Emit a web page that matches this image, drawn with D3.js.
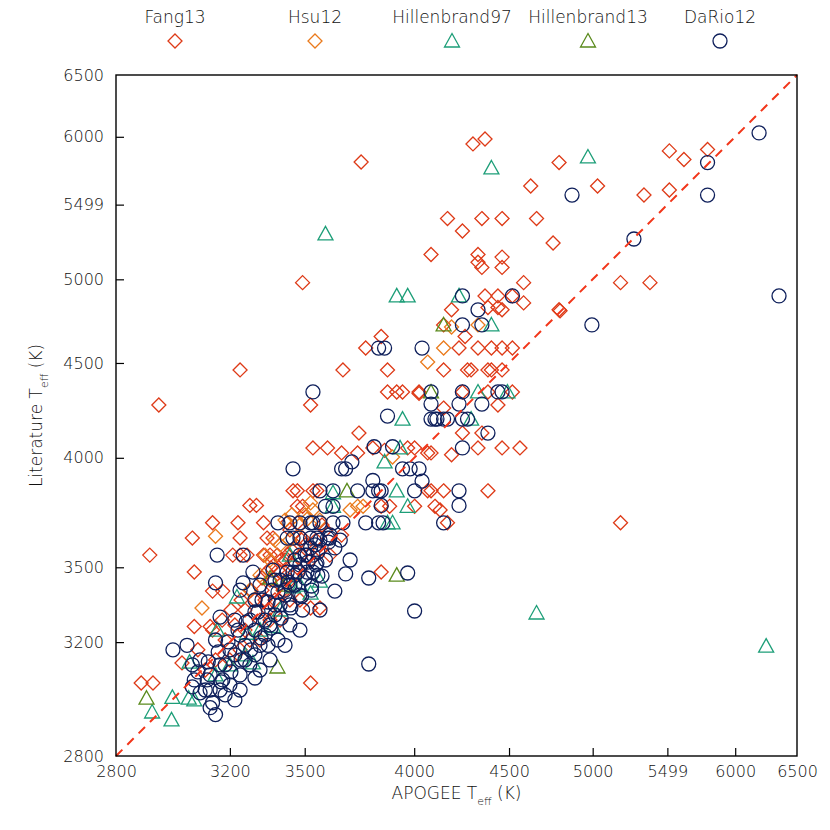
<!DOCTYPE html>
<html lang="en">
<head>
    <meta charset="utf-8">
    <title>APOGEE vs literature Teff</title>
    <script src="https://d3js.org/d3.v7.min.js"></script>
    <style type="text/css">
        body { margin: 0; background: white; }
        text { font-family: "DejaVu Sans", sans-serif; font-weight: 200; fill: #111; }
        .tick line { stroke: #000; stroke-width: 1.2; }
    </style>
</head>
<body>
<div id="main"></div>
<script type="text/javascript">
var width = 830, height = 830;

// tick values (the 5499 label is what the original plot printed)
var tickVals = [2800, 3200, 3500, 4000, 4500, 5000, 5499, 6000, 6500];

// [APOGEE Teff, literature Teff]
var fang13 = [
  [3748,5808],[3491,4979],[4168,5402],[4084,5160],[4189,4811],[4148,4720],[3841,4652],[3769,4585],
  [3871,4461],[3239,4461],[3666,4461],[3871,4340],[3915,4340],[3943,4340],[4024,4340],[4024,4332],
  [2943,4270],[3525,4270],[4148,4254],[4302,5945],[4367,5983],[4792,5804],[5513,5892],[5617,5827],
  [5790,5903],[4624,5632],[5031,5632],[5337,5567],[5513,5603],[4246,5317],[4350,5402],[4461,5402],
  [4658,5402],[4756,5236],[4329,5160],[4329,5110],[4350,5076],[4461,5143],[4461,5076],[4583,4979],
  [5180,4979],[5378,4979],[4367,4896],[4438,4896],[4519,4896],[4583,4853],[4383,4825],[4438,4825],
  [4461,4811],[4792,4811],[4798,4805],[4260,4652],[4228,4585],[4329,4585],[4402,4585],[4461,4585],
  [4519,4585],[4148,4461],[4273,4461],[4292,4461],[4383,4461],[4402,4461],[4461,4461],[4246,4340],
  [4383,4340],[4519,4340],[4438,4270],
  [3738,4124],[3535,4049],[3598,4049],[3660,4024],[3732,4024],[3802,4049],[3857,4037],[3968,4049],
  [4002,4049],[4067,4024],[4084,4024],[4189,4015],[4246,4124],[4350,4124],[4329,4049],[4461,4049],
  [4562,4049],[3451,3841],[3469,3841],[3535,3841],[3552,3841],[4067,3841],[4084,3841],[4148,3841],
  [4383,3841],[3469,3769],[3491,3769],[3841,3769],[3881,3769],[4002,3769],[4104,3769],[4130,3752],
  [3427,3694],[3469,3694],[4168,3694],[3135,3694],[3231,3694],[3331,3694],[3277,3773],[3303,3773],
  [5180,3694],[3061,3626],[3239,3626],[3345,3626],[3369,3626],[3491,3626],[3660,3639],[2912,3552],
  [3211,3552],[3239,3552],[3266,3552],[3331,3552],[3357,3552],[3387,3552],[3427,3552],[3608,3552],
  [3068,3480],[3345,3480],[3398,3480],[3841,3480],[3135,3401],[3173,3401],[3525,3333],[3565,3333],
  [3068,3260],[3126,3260],[3024,3122],[2883,3049],[2923,3049],[3525,3049],
  [3182,3208],[3219,3266],[3258,3325],[3297,3365],[3325,3405],[3357,3446],[3389,3488],[3418,3531],
  [3459,3583],[3502,3596],[3548,3617],[3589,3662],[3200,3133],[3239,3171],[3277,3208],[3317,3285],
  [3349,3325],[3377,3365],[3410,3405],[3438,3446],[3480,3488],[3525,3531],[3565,3574],[3108,3096],
  [3146,3133],[3258,3246],[3337,3365],[3398,3426],[3446,3510],[3480,3544],[3357,3285],[3438,3365],
  [3204,3325],[3243,3365],[3281,3405],[3325,3455],[3361,3497],[3402,3531],[3446,3574],[3487,3617],
  [3574,3684],[3135,3246],[3171,3285],[3081,3171],[3438,3662],[3398,3285],[3480,3365],[3317,3208]
];

var hsu12 = [
  [3895,4004],[4067,4505],[4148,4585],[4189,4708],[4329,4720],[3525,3785],[3535,3752],[3698,3752],
  [3732,3769],[3757,3769],[3510,3710],[3146,3634],[3096,3333],[3446,3730],[3480,3684],[3398,3596],
  [3357,3531],[3317,3467],[3438,3617],[3277,3405],[3418,3706],[3502,3730],[3377,3617],[3337,3552],
  [3565,3706]
];

var hill97 = [
  [3589,5297],[3915,4896],[3968,4896],[4228,4896],[4970,5846],[4402,5764],[4402,4720],[4329,4340],
  [4491,4340],[3943,4196],[4292,4196],[3931,4049],[3857,3980],[3915,3841],[3968,3769],[3871,3694],
  [3895,3694],[3622,3769],[3622,3832],[3438,3552],[3565,3442],[4658,3313],[6245,3185],
  [2920,2947],[2987,2920],[2990,2998],[3051,3125],[3048,2995],[3068,2989],
  [3227,3377],[3266,3234],[3289,3122],[3369,3260],[3451,3418],[3525,3393],[3152,3246],
  [3200,3115],[3317,3246],[3398,3325],[3480,3426],[3258,3152],[3146,3078]
];

var hill13 = [
  [4148,4720],[4084,4340],[3684,3841],[3915,3467],[3387,3107],[2901,2995],[3418,3426],[3357,3455]
];

var dario12 = [
  [3829,4585],[3857,4585],[4039,4585],[3535,4340],[4084,4340],[4084,4275],[6188,6030],[5790,5804],
  [4871,5567],[5790,5567],[5269,5263],[6350,4896],[4246,4896],[4519,4896],[4329,4811],[4995,4720],
  [4246,4720],[4350,4720],[4246,4340],[4438,4340],[4461,4340],[4228,4275],[4350,4275],[3871,4212],
  [4084,4196],[4104,4196],[4114,4196],[4148,4196],[4168,4196],[4246,4196],[4273,4196],[4383,4124],
  [3808,4055],[3895,4055],[4246,4049],[3451,3946],[3660,3946],[3678,3946],[3706,3980],[3943,3946],
  [3980,3946],[4024,3946],[4039,3887],[3802,3890],[3565,3841],[3622,3841],[3732,3841],[3802,3841],
  [3829,3841],[3841,3841],[4002,3841],[4228,3841],[3589,3769],[3622,3769],[3841,3773],[4228,3773],
  [3389,3694],[3438,3694],[3480,3694],[3525,3694],[3535,3694],[3565,3694],[3622,3694],[3666,3694],
  [3769,3694],[3829,3694],[3850,3694],[4148,3694],[3427,3626],[3451,3626],[3480,3626],[3525,3626],
  [3552,3626],[3598,3626],[3608,3626],[3152,3552],[3251,3552],[3480,3552],[3510,3552],[3535,3552],
  [3552,3518],[3289,3480],[3369,3488],[3427,3480],[3451,3480],[3510,3480],[3535,3480],[3783,3455],
  [3968,3476],[3146,3435],[3251,3435],[3239,3405],[4002,3321],[3163,3297],[2992,3171],[3042,3188],
  [3061,3115],[3783,3118],[3146,2938],[3126,2962],[3089,3014],[3061,3035],[3068,3060],[3115,3060],
  [3173,3060],[3135,2979],[3163,3024],
  [3108,3024],[3200,3042],[3239,3078],[3277,3115],[3297,3152],[3317,3188],[3337,3227],[3357,3266],
  [3377,3305],[3398,3345],[3418,3385],[3438,3426],[3459,3467],[3480,3510],[3502,3552],[3525,3583],
  [3565,3617],[3608,3640],[3182,3115],[3219,3152],[3258,3188],[3297,3246],[3337,3285],[3377,3345],
  [3418,3405],[3459,3426],[3502,3455],[3548,3510],[3277,3285],[3325,3365],[3365,3405],[3398,3446],
  [3239,3227],[3200,3171],[3163,3115],[3126,3078],[3258,3133],[3317,3096],[3219,2989],[3182,3007],
  [3297,3317],[3349,3188],[3438,3345],[3480,3385],[3529,3405],[3556,3467],[3589,3531],[3630,3583],
  [3654,3617],[3389,3208],[3438,3266],[3491,3325],[3317,3426],
  [3081,3089],[3119,3126],[3156,3163],[3193,3201],[3231,3246],[3262,3277],[3309,3317],[3349,3357],
  [3389,3397],[3430,3438],[3472,3480],[3514,3522],[3556,3565],[3602,3608],[3126,3024],[3167,3053],
  [3204,3089],[3243,3133],[3281,3171],[3321,3216],[3361,3254],[3402,3293],[3442,3333],[3487,3381],
  [3529,3422],[3574,3463],[3089,3133],[3146,3208],[3219,3285],[3297,3365],[3377,3446],[3459,3531],
  [3544,3596],[3239,3024],[3297,3067],[3357,3133],[3418,3188],[3480,3246],[3565,3325],[3630,3401],
  [3678,3472],[3698,3531]
];

var series = [
  {name: "Fang13", data: fang13, shape: "diamond", color: "#de3a17"},
  {name: "Hsu12", data: hsu12, shape: "diamond", color: "#ea7a1c"},
  {name: "Hillenbrand97", data: hill97, shape: "triangle", color: "#1d9e78"},
  {name: "Hillenbrand13", data: hill13, shape: "triangle", color: "#5a8a1c"},
  {name: "DaRio12", data: dario12, shape: "circle", color: "#0e1f5b"}
];

var margin = {left: 116, right: 33, top: 75, bottom: 74};
var pw = width - margin.left - margin.right, ph = height - margin.top - margin.bottom;

// the plot axes are logarithmic in (Teff - 500 K)
var TOFF = 500;
var xs = d3.scaleLog().domain([2800 - TOFF, 6500 - TOFF]).range([0, pw]);
var ys = d3.scaleLog().domain([2800 - TOFF, 6500 - TOFF]).range([ph, 0]);
function X(t) { return xs(t - TOFF); }
function Y(t) { return ys(t - TOFF); }

var svg = d3.select("div#main").append("svg")
    .attr("width", width).attr("height", height);

var g = svg.append("g").attr("transform", "translate(" + margin.left + "," + margin.top + ")");

function markerPath(shape) {
    if (shape === "diamond") return "M0,-7L7,0L0,7L-7,0Z";
    if (shape === "triangle") return "M0,-7.5L7.5,6L-7.5,6Z";
    return "M7,0A7,7 0 1,1 -7,0A7,7 0 1,1 7,0Z";
}

series.forEach(function(s) {
    g.append("g").attr("class", "series").selectAll("path")
        .data(s.data).enter().append("path")
        .attr("transform", function(d) { return "translate(" + X(d[0]) + "," + Y(d[1]) + ")"; })
        .attr("d", markerPath(s.shape))
        .attr("fill", "none")
        .attr("stroke", s.color)
        .attr("stroke-width", 1.3);
});

// one-to-one line
g.append("line")
    .attr("x1", X(2800)).attr("y1", Y(2800))
    .attr("x2", X(6500)).attr("y2", Y(6500))
    .attr("stroke", "#f2361a").attr("stroke-width", 2)
    .attr("stroke-dasharray", "9,7");

// frame
g.append("rect").attr("width", pw).attr("height", ph)
    .attr("fill", "none").attr("stroke", "#000").attr("stroke-width", 1.4);

var fmt = function(d) { return String(Math.round(d + TOFF)); };
var shifted = tickVals.map(function(t) { return t - TOFF; });

var xAxis = g.append("g").attr("transform", "translate(0," + ph + ")")
    .call(d3.axisBottom(xs).tickValues(shifted).tickFormat(fmt).tickSize(-8).tickPadding(10));
var yAxis = g.append("g")
    .call(d3.axisLeft(ys).tickValues(shifted).tickFormat(fmt).tickSize(-8).tickPadding(12));
[xAxis, yAxis].forEach(function(a) {
    a.select(".domain").remove();
    a.selectAll("text").style("font-size", "16px").style("font-family", "DejaVu Sans").attr("fill", "#111");
});
// first/last tick marks sit on the frame
xAxis.selectAll(".tick line").filter(function(d, i) { return i === 0 || i === tickVals.length - 1; }).remove();
yAxis.selectAll(".tick line").filter(function(d, i) { return i === 0 || i === tickVals.length - 1; }).remove();

// axis titles
var xt = svg.append("text").attr("x", margin.left + pw / 2).attr("y", 799)
    .attr("text-anchor", "middle").style("font-size", "17px");
xt.append("tspan").text("APOGEE T");
xt.append("tspan").attr("dy", 6).style("font-size", "11px").text("eff");
xt.append("tspan").attr("dy", -6).text(" (K)");

var yt = svg.append("text").attr("transform", "translate(42," + (margin.top + ph / 2) + ") rotate(-90)")
    .attr("text-anchor", "middle").style("font-size", "17px");
yt.append("tspan").text("Literature T");
yt.append("tspan").attr("dy", 6).style("font-size", "11px").text("eff");
yt.append("tspan").attr("dy", -6).text(" (K)");

// legend
var legX = [175, 315, 452, 588, 720];
var leg = svg.append("g").selectAll("g").data(series).enter().append("g")
    .attr("transform", function(d, i) { return "translate(" + legX[i] + ",0)"; });
leg.append("text").attr("y", 23).attr("text-anchor", "middle")
    .style("font-size", "17px").text(function(d) { return d.name; });
leg.append("path")
    .attr("transform", "translate(0,41)")
    .attr("d", function(d) { return markerPath(d.shape); })
    .attr("fill", "none").attr("stroke", function(d) { return d.color; }).attr("stroke-width", 1.3);
</script>
</body>
</html>
